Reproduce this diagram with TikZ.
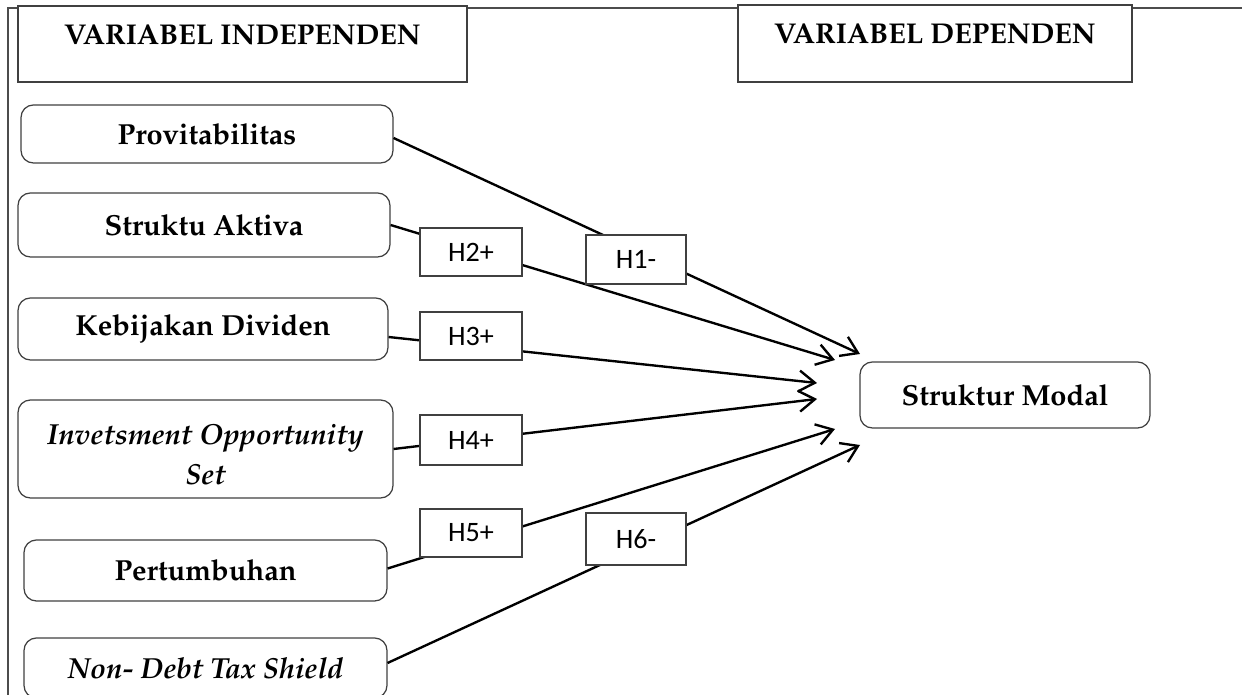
\documentclass[tikz,border=0pt]{standalone}
\usepackage{fontspec}
\newfontfamily\hfont{Carlito}
\newcommand{\palfont}{\fontencoding{T1}\fontfamily{ppl}\selectfont}
\usetikzlibrary{arrows.meta,positioning,calc}

\begin{document}
\begin{tikzpicture}[x=0.02cm, y=-0.02cm,
  frame/.style={draw=black!70, line width=0.6pt},
  header/.style={draw=black!75, line width=0.7pt, fill=white},
  headtext/.style={font=\palfont\fontsize{16.3}{19}\selectfont\bfseries, anchor=north},
  var/.style={draw=black!75, line width=0.7pt, rounded corners=7pt, fill=white,
              font=\palfont\fontsize{16.5}{22.7}\selectfont\bfseries, align=center},
  hyp/.style={draw=black!75, line width=0.7pt, fill=white,
              font=\hfont\fontsize{16}{19}\selectfont,
              minimum width=2.04cm, minimum height=0.96cm, inner sep=0pt},
  path/.style={-{Straight Barb[length=0.32cm, width=0.42cm]}, line width=1.35pt, draw=black},
]
\useasboundingbox (0,0) rectangle (1242,695);

% ============ outer frame (page border) ============
\draw[frame] (8,700) -- (8,8) -- (1250,8);

% ============ headers ============
\node[header, minimum width=8.98cm, minimum height=1.52cm] (indep) at (242.5,44) {};
\node[headtext] (indeptitle) at ([yshift=-0.26cm]indep.north) {VARIABEL INDEPENDEN};
\node[header, minimum width=7.88cm, minimum height=1.54cm] (dep) at (935,43.5) {};
\node[headtext] (deptitle) at ([yshift=-0.26cm]dep.north) {VARIABEL DEPENDEN};

% ============ independent variables ============
\node[var, minimum width=7.44cm, minimum height=1.16cm] (prov) at (207,134) {Provitabilitas};
\node[var, minimum width=7.44cm, minimum height=1.28cm] (aktiva) at (204,225) {Struktu Aktiva};
\node[var, minimum width=7.40cm, minimum height=1.24cm] (dividen) at (203,329) {Kebijakan Dividen};
\node[var, minimum width=7.50cm, minimum height=1.96cm] (ios) at (205.5,449) {};
\node[font=\palfont\fontsize{16.5}{22.7}\selectfont\bfseries\itshape, align=center]
  (iostext) at ($(ios.center)+(0,5)$) {Invetsment Opportunity\\Set};
\node[var, minimum width=7.26cm, minimum height=1.22cm] (tumbuh) at (205.5,570.5) {Pertumbuhan};
\node[var, minimum width=7.26cm, minimum height=1.20cm] (ndts) at (205.5,668) {\itshape Non- Debt Tax Shield};

% ============ dependent variable ============
\node[var, minimum width=5.8cm, minimum height=1.32cm] (modal) at (1005,395) {Struktur Modal};

% arrow tips in front of Struktur Modal
\coordinate (t1) at (860,354);
\coordinate (t2) at (835,360);
\coordinate (t3) at (817,383);
\coordinate (t4) at (817,399);
\coordinate (t5) at (835,429);
\coordinate (t6) at (860,445);

% ============ paths ============
\draw[path] ($(prov.east)+(0,4)$) -- (t1);
\draw[path] (aktiva.east) -- (t2);
\draw[path] ($(dividen.east)+(0,8)$) -- (t3);
\draw[path] (ios.east) -- (t4);
\draw[path] ($(tumbuh.east)+(0,-2)$) -- (t5);
\draw[path] ($(ndts.east)+(0,-5)$) -- (t6);

% ============ hypothesis labels (on top of the paths) ============
\node[hyp, minimum width=2cm, minimum height=0.98cm] (h1) at (636,259.5) {H1-};
\node[hyp] (h2) at (471,252) {H2+};
\node[hyp] (h3) at (471,336) {H3+};
\node[hyp, minimum height=1.0cm] (h4) at (471,440) {H4+};
\node[hyp] (h5) at (471,533) {H5+};
\node[hyp, minimum width=2cm, minimum height=1.04cm] (h6) at (636,539) {H6-};

\end{tikzpicture}
\end{document}
